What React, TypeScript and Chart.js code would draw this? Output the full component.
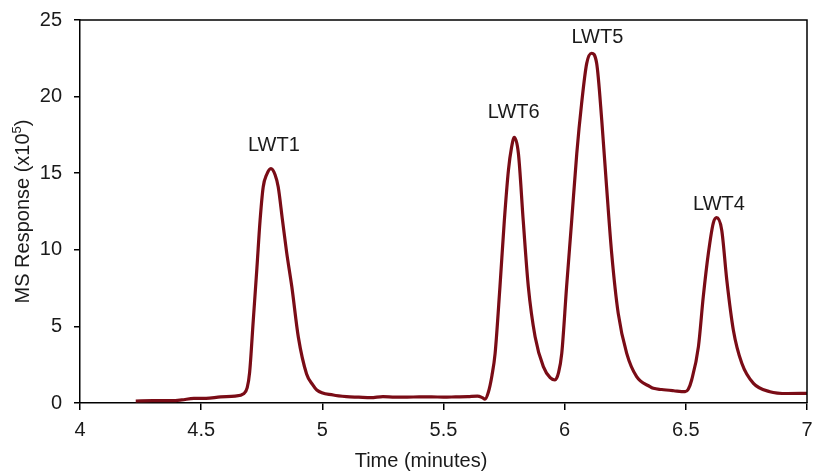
import React, { useEffect, useRef } from "react";
import { Chart, registerables } from "chart.js";

Chart.register(...registerables);

const times = [
  4.23, 4.3, 4.38, 4.42, 4.47, 4.52, 4.58, 4.64, 4.675, 4.69, 4.7, 4.715, 4.73, 4.743, 4.756, 4.77, 4.788,
  4.805, 4.818, 4.835, 4.853, 4.874, 4.901, 4.935, 4.96, 4.977, 5.045, 5.1, 5.15, 5.2, 5.25, 5.3, 5.35,
  5.4, 5.45, 5.5, 5.55, 5.6, 5.64, 5.66, 5.671, 5.685, 5.7, 5.713, 5.733, 5.751, 5.768, 5.781, 5.792,
  5.809, 5.829, 5.85, 5.878, 5.912, 5.94, 5.96, 5.975, 5.988, 6.008, 6.029, 6.05, 6.07, 6.091, 6.111,
  6.132, 6.153, 6.173, 6.194, 6.221, 6.256, 6.297, 6.352, 6.366, 6.4, 6.45, 6.497, 6.51, 6.524, 6.552,
  6.572, 6.593, 6.613, 6.627, 6.648, 6.669, 6.696, 6.731, 6.779, 6.847, 6.92, 7.0,
];
const response = [
  0.13, 0.15, 0.15, 0.2, 0.3, 0.3, 0.4, 0.45, 0.6, 1.0, 2.0, 5.4, 8.8, 11.9, 14.1, 14.9, 15.3,
  14.9, 14.1, 12.0, 9.8, 7.6, 4.3, 1.9, 1.2, 0.85, 0.52, 0.41, 0.38, 0.35, 0.42, 0.38, 0.38,
  0.4, 0.4, 0.38, 0.4, 0.42, 0.45, 0.35, 0.25, 0.7, 1.8, 3.24, 7.6, 11.9, 15.2, 16.7, 17.34,
  16.3, 11.9, 7.6, 4.33, 2.37, 1.65, 1.5, 2.0, 3.24, 7.6, 11.9, 16.3, 19.56, 22.17, 22.83,
  22.17, 18.47, 14.1, 9.77, 5.85, 3.24, 1.72, 1.07, 0.96, 0.88, 0.8, 0.74, 0.9, 1.5, 3.68,
  6.94, 9.77, 11.73, 12.1, 11.3, 8.03, 4.77, 2.59, 1.28, 0.74, 0.62, 0.63,
];

const peakLabels = ["LWT1", "LWT6", "LWT5", "LWT4"];
const peakLabelX = [4.8, 5.79, 6.135, 6.637];
const peakLabelY = [16.8, 18.95, 23.85, 12.95];

const xTicks = [4, 4.5, 5, 5.5, 6, 6.5, 7];
const yTicks = [0, 5, 10, 15, 20, 25];
const xTitle = "Time (minutes)";
const yTitleMain = "MS Response (x10";
const yTitleSup = "5";
const yTitleEnd = ")";

const FONT = "'Liberation Sans', Arial, sans-serif";
const TEXT = "#1a1a1a";
const LINE = "#7a0c16";

export default function App() {
  const ref = useRef<HTMLCanvasElement | null>(null);

  useEffect(() => {
    if (!ref.current) return;
    const decor = {
      id: "decor",
      afterDraw(chart: any) {
        const { ctx, chartArea, scales } = chart;
        ctx.save();
        ctx.strokeStyle = "#000";
        ctx.lineWidth = 1.5;
        ctx.beginPath();
        ctx.moveTo(chartArea.left, chartArea.top);
        ctx.lineTo(chartArea.right, chartArea.top);
        ctx.lineTo(chartArea.right, chartArea.bottom);
        ctx.stroke();
        ctx.fillStyle = TEXT;
        ctx.font = `20px ${FONT}`;
        ctx.textAlign = "center";
        ctx.textBaseline = "middle";
        peakLabels.forEach((t, i) => {
          ctx.fillText(t, scales.x.getPixelForValue(peakLabelX[i]), scales.y.getPixelForValue(peakLabelY[i]));
        });
        ctx.textBaseline = "alphabetic";
        ctx.fillText(xTitle, 421, 467);
        ctx.translate(29, (chartArea.top + chartArea.bottom) / 2);
        ctx.rotate(-Math.PI / 2);
        ctx.font = `20px ${FONT}`;
        const w1 = ctx.measureText(yTitleMain).width;
        ctx.font = `13px ${FONT}`;
        const w2 = ctx.measureText(yTitleSup).width;
        ctx.font = `20px ${FONT}`;
        const w3 = ctx.measureText(yTitleEnd).width;
        const total = w1 + w2 + w3;
        let x0 = -total / 2;
        ctx.textAlign = "left";
        ctx.fillText(yTitleMain, x0, 0);
        x0 += w1;
        ctx.font = `13px ${FONT}`;
        ctx.fillText(yTitleSup, x0, -8);
        x0 += w2;
        ctx.font = `20px ${FONT}`;
        ctx.fillText(yTitleEnd, x0, 0);
        ctx.restore();
      },
    };

    const zeroPad = (s: any) => {
      s.paddingTop = 0;
      s.paddingBottom = 0;
      s.paddingLeft = 0;
      s.paddingRight = 0;
    };

    const chart = new Chart(ref.current, {
      type: "line",
      data: {
        datasets: [
          {
            data: times.map((t, i) => ({ x: t, y: response[i] })),
            borderColor: LINE,
            borderWidth: 3.2,
            pointRadius: 0,
            fill: false,
            cubicInterpolationMode: "monotone",
          },
        ],
      },
      options: {
        animation: false,
        responsive: false,
        events: [],
        layout: { padding: { top: 20, right: 10, left: 0, bottom: 0 } },
        plugins: { legend: { display: false }, tooltip: { enabled: false }, title: { display: false } },
        scales: {
          x: {
            type: "linear",
            min: 4,
            max: 7,
            afterBuildTicks: (s: any) => {
              s.ticks = xTicks.map((v) => ({ value: v }));
            },
            afterFit: (s: any) => {
              s.height = 70;
              zeroPad(s);
            },
            ticks: {
              color: TEXT,
              font: { family: FONT, size: 20 },
              padding: 8,
              maxRotation: 0,
              autoSkip: false,
              callback: (v: any) => String(v),
            },
            grid: { display: true, drawOnChartArea: false, drawTicks: true, tickLength: 7, color: "#000", lineWidth: 1.5 },
            border: { display: true, color: "#000", width: 1.5 },
          },
          y: {
            min: 0,
            max: 25,
            afterBuildTicks: (s: any) => {
              s.ticks = yTicks.map((v) => ({ value: v }));
            },
            afterFit: (s: any) => {
              s.width = 80;
              zeroPad(s);
            },
            ticks: {
              color: TEXT,
              font: { family: FONT, size: 20 },
              padding: 12,
              callback: (v: any) => String(v),
            },
            grid: { display: true, drawOnChartArea: false, drawTicks: true, tickLength: 6, color: "#000", lineWidth: 1.5 },
            border: { display: true, color: "#000", width: 1.5 },
          },
        },
      },
      plugins: [decor],
    } as any);
    return () => chart.destroy();
  }, []);

  return (
    <div style={{ position: "fixed", left: 0, top: 0, width: 817, height: 473, background: "#fff" }}>
      <canvas ref={ref} width={817} height={473} style={{ display: "block" }} />
    </div>
  );
}
